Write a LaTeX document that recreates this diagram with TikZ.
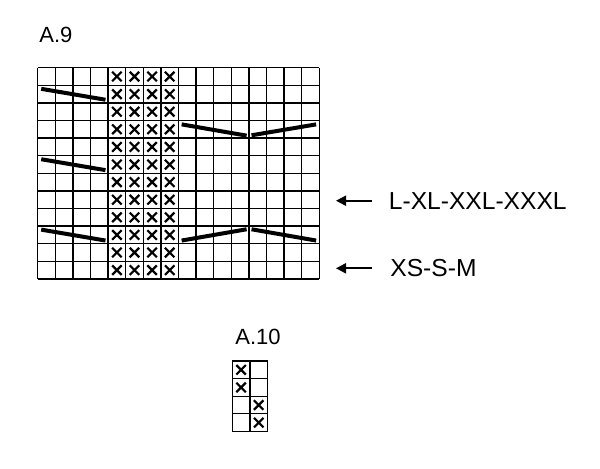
\documentclass[tikz,border=0pt]{standalone}
\usepackage{fontspec}
\setmainfont{Liberation Sans}
\usetikzlibrary{arrows.meta}

\begin{document}
\begin{tikzpicture}[x=0.5pt, y=-0.5pt,
    cell/.style={x=8.8pt, y=-8.8pt},
    gridline/.style={line width=0.65pt},
    cross/.style={line width=1.1pt},
    decline/.style={line width=2pt},
    sizearrow/.style={line width=1pt, {Triangle[length=5pt,width=5pt]}-},
    chartlbl/.style={anchor=base west, inner sep=0pt, font=\fontsize{11}{13}\selectfont},
    sizelbl/.style={anchor=base west, inner sep=0pt, font=\fontsize{12.3}{15}\selectfont}]
  \useasboundingbox (0,0) rectangle (600,468);
  % chart A.9
  \node[chartlbl] (titleNine) at (39,42.3) {A.9};
  \begin{scope}[shift={(37.7,67.7)}, cell]
    \foreach \c in {0,...,16}
      \draw[gridline] (\c,0) -- (\c,12);
    \foreach \r in {0,...,12}
      \draw[gridline] (0,\r) -- (16,\r);
    \foreach \c in {4,...,7}
      \foreach \r in {0,...,11}
        \draw[cross] (\c+0.23,\r+0.23) -- (\c+0.77,\r+0.77)
                     (\c+0.77,\r+0.23) -- (\c+0.23,\r+0.77);
    \foreach \r in {1,5,9}
      \draw[decline] (0.2,\r+0.2) -- (3.85,\r+0.82);
    \draw[decline] (8.18,3.22) -- (11.87,3.86);
    \draw[decline] (12.15,3.84) -- (15.82,3.22);
    \draw[decline] (8.18,9.82) -- (11.87,9.18);
    \draw[decline] (12.15,9.18) -- (15.82,9.82);
  \end{scope}
  % sizes
  \coordinate (tipLarge) at (336,200.7);
  \coordinate (tailLarge) at (371.7,200.7);
  \draw[sizearrow] (tipLarge) -- (tailLarge);
  \node[sizelbl] (sizeLarge) at (388.5,209.3) {L-XL-XXL-XXXL};
  \coordinate (tipSmall) at (336,268.3);
  \coordinate (tailSmall) at (371.7,268.3);
  \draw[sizearrow] (tipSmall) -- (tailSmall);
  \node[sizelbl] (sizeSmall) at (390,276.7) {XS-S-M};
  % chart A.10
  \node[chartlbl] (titleTen) at (235,344) {A.10};
  \begin{scope}[shift={(232.3,361)}, cell]
    \foreach \c in {0,1,2}
      \draw[gridline] (\c,0) -- (\c,4);
    \foreach \r in {0,...,4}
      \draw[gridline] (0,\r) -- (2,\r);
    \foreach \c/\r in {0/0,0/1,1/2,1/3}
      \draw[cross] (\c+0.23,\r+0.23) -- (\c+0.77,\r+0.77)
                   (\c+0.77,\r+0.23) -- (\c+0.23,\r+0.77);
  \end{scope}
\end{tikzpicture}
\end{document}
